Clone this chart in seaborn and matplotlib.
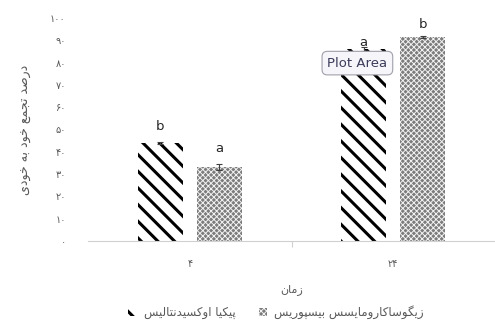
import pandas as pd
import numpy as np
import seaborn as sns
import matplotlib.pyplot as plt
from matplotlib.patches import Patch

sns.set_theme(style="white")
plt.rcParams['font.family'] = ['DejaVu Sans']
plt.rcParams['hatch.linewidth'] = 2.2

# data
times = ['۴', '۲۴']
species = ['پیکیا اوکسیدنتالیس', 'زیگوساکارومایسس بیسپوریس']
pichia = [44.0, 86.0]
zygo = [33.2, 91.5]
pichia_err = [0.5, 0.8]
zygo_err = [1.4, 0.6]
pichia_letters = ['b', 'a']
zygo_letters = ['a', 'b']
yticks = [0, 10, 20, 30, 40, 50, 60, 70, 80, 90, 100]
ytick_labels = ['۰', '۱۰', '۲۰', '۳۰', '۴۰', '۵۰', '۶۰', '۷۰', '۸۰', '۹۰', '۱۰۰']
ylabel = 'درصد تجمع خود به خودی'
xlabel = 'زمان'

# simple persian shaping (matplotlib has no bidi / joining)
FORMS = {
    'ا': ('\uFE8D', '\uFE8E', None, None),
    'ب': ('\uFE8F', '\uFE90', '\uFE91', '\uFE92'),
    'پ': ('\uFB56', '\uFB57', '\uFB58', '\uFB59'),
    'ت': ('\uFE95', '\uFE96', '\uFE97', '\uFE98'),
    'ج': ('\uFE9D', '\uFE9E', '\uFE9F', '\uFEA0'),
    'خ': ('\uFEA5', '\uFEA6', '\uFEA7', '\uFEA8'),
    'د': ('\uFEA9', '\uFEAA', None, None),
    'ر': ('\uFEAD', '\uFEAE', None, None),
    'ز': ('\uFEAF', '\uFEB0', None, None),
    'س': ('\uFEB1', '\uFEB2', '\uFEB3', '\uFEB4'),
    'ص': ('\uFEB9', '\uFEBA', '\uFEBB', '\uFEBC'),
    'ع': ('\uFEC9', '\uFECA', '\uFECB', '\uFECC'),
    '\u06A9': ('\uFB8E', '\uFB8F', '\uFB90', '\uFB91'),
    '\u0643': ('\uFB8E', '\uFB8F', '\uFB90', '\uFB91'),
    'گ': ('\uFB92', '\uFB93', '\uFB94', '\uFB95'),
    'ل': ('\uFEDD', '\uFEDE', '\uFEDF', '\uFEE0'),
    'م': ('\uFEE1', '\uFEE2', '\uFEE3', '\uFEE4'),
    'ن': ('\uFEE5', '\uFEE6', '\uFEE7', '\uFEE8'),
    'ه': ('\uFEE9', '\uFEEA', '\uFEEB', '\uFEEC'),
    'و': ('\uFEED', '\uFEEE', None, None),
    '\u06CC': ('\uFBFC', '\uFBFD', '\uFBFE', '\uFBFF'),
    '\u064A': ('\uFBFC', '\uFBFD', '\uFBFE', '\uFBFF'),
}


def fa(s):
    out = []
    for i, c in enumerate(s):
        f = FORMS.get(c)
        if f is None:
            out.append(c)
            continue
        prev = s[i - 1] if i > 0 else ''
        nxt = s[i + 1] if i + 1 < len(s) else ''
        jp = prev in FORMS and FORMS[prev][2] is not None
        jn = f[2] is not None and nxt in FORMS
        if jp and jn:
            out.append(f[3])
        elif jp:
            out.append(f[1])
        elif jn:
            out.append(f[2])
        else:
            out.append(f[0])
    return ''.join(reversed(out))


df = pd.DataFrame({
    'time': times * 2,
    'species': [species[0]] * 2 + [species[1]] * 2,
    'value': pichia + zygo,
})

fig = plt.figure(figsize=(4.95, 3.27), dpi=100)
ax = fig.add_axes([0.178, 0.263, 0.822, 0.682])

sns.barplot(data=df, x='time', y='value', hue='species', order=times,
            hue_order=species, width=0.58, gap=0.23, errorbar=None, ax=ax,
            legend=False)

bs = chr(92)
styles = [dict(facecolor='white', edgecolor='black', hatch=bs * 2, hlw=2.2),
          dict(facecolor='#7c7c7c', edgecolor='#f2f2f2', hatch='xxxxxx',
               hlw=0.7)]
errs = [pichia_err, zygo_err]
vals = [pichia, zygo]
letters = [pichia_letters, zygo_letters]
letter_gap = [[7.5, 3.2], [8.5, 5.8]]
bar_conts = list(ax.containers)
for k, cont in enumerate(bar_conts):
    for j, bar in enumerate(cont.patches):
        bar.set_facecolor(styles[k]['facecolor'])
        bar.set_edgecolor(styles[k]['edgecolor'])
        bar.set_hatch(styles[k]['hatch'])
        if hasattr(bar, 'set_hatch_linewidth'):
            bar.set_hatch_linewidth(styles[k]['hlw'])
        bar.set_linewidth(0)
        xc = bar.get_x() + bar.get_width() / 2
        ax.errorbar(xc, vals[k][j], yerr=errs[k][j], color='#404040',
                    lw=0.8, capsize=2.5, capthick=0.8)
        ax.text(xc, vals[k][j] + letter_gap[k][j], letters[k][j],
                ha='center', va='center', fontsize=9.5, color='#262626')

ax.set_xlim(-0.5, 1.5)
ax.set_ylim(0, 100)
ax.set_yticks(yticks)
ax.set_yticklabels(ytick_labels)
ax.set_xticks([0, 1])
ax.set_xticklabels(times)
ax.set_xticks([0.5], minor=True)
ax.tick_params(axis='y', length=0, labelsize=7, colors='#595959', pad=16)
ax.tick_params(axis='x', which='major', length=0, labelsize=7,
               colors='#595959', pad=13)
ax.tick_params(axis='x', which='minor', length=4, width=0.8,
               color='#d0d0d0', bottom=True)
for side in ['left', 'right', 'top']:
    ax.spines[side].set_visible(False)
ax.spines['bottom'].set_color('#d0d0d0')
ax.spines['bottom'].set_linewidth(0.8)

ax.set_xlabel(fa(xlabel), fontsize=8, color='#595959', labelpad=11)
ax.set_ylabel(fa(ylabel), fontsize=9, color='#595959', labelpad=13)

handles = [Patch(facecolor=s['facecolor'], edgecolor=s['edgecolor'],
                 hatch=s['hatch'], linewidth=0) for s in styles]
leg = fig.legend(handles, [fa(s) for s in species], loc='center',
                 bbox_to_anchor=(0.558, 0.045), ncol=2, frameon=False,
                 fontsize=8.5, labelcolor='#595959', handlelength=0.7,
                 handleheight=0.7, handletextpad=0.6, columnspacing=2.0)
for h, s in zip(leg.legend_handles, styles):
    if hasattr(h, 'set_hatch_linewidth'):
        h.set_hatch_linewidth(s['hlw'])

fig.text(0.722, 0.807, 'Plot Area', ha='center', va='center', fontsize=9.5,
         color='#3b3b5a',
         bbox=dict(boxstyle='round,pad=0.4', fc='#f6f6fa', ec='#a0a0ac',
                   lw=0.8))

fig.savefig('out.png', dpi=100)
